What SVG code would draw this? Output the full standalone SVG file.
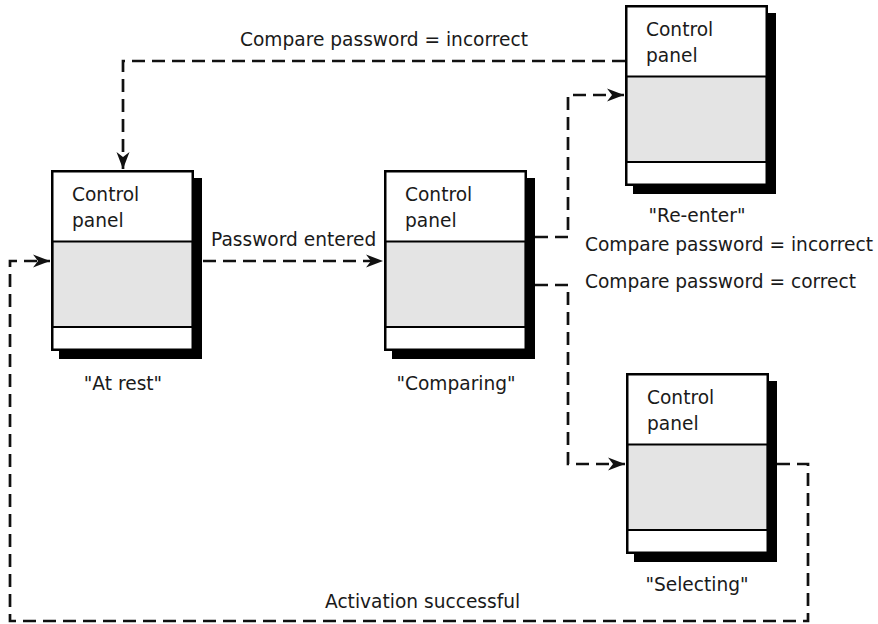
<svg xmlns="http://www.w3.org/2000/svg" width="878" height="624" viewBox="0 0 878 624">
<defs>
<style>
text{font-family:"DejaVu Sans","Liberation Sans",sans-serif;font-size:18.6px;fill:#1a1a1a}
.mid{text-anchor:middle}
.shadow{fill:#000}
.body{fill:#fff}
.gray{fill:#e4e4e4;stroke:#000;stroke-width:2}
.frame{fill:none;stroke:#000;stroke-width:2.5}
.conn{fill:none;stroke:#111;stroke-width:2.7;stroke-dasharray:13 7}
</style>
<marker id="arr" markerUnits="userSpaceOnUse" markerWidth="22" markerHeight="16" viewBox="-20 -8 22 16" refX="0" refY="0" orient="auto">
<path d="M0,0 L-17,-6.5 L-12,0 L-17,6.5 Z" fill="#111"/>
</marker>
</defs>
<rect width="878" height="624" fill="#fff"/>

<g id="connectors">
<path class="conn" d="M625 61 H123 V169" marker-end="url(#arr)"/>
<path class="conn" d="M203 261 H383" marker-end="url(#arr)"/>
<path class="conn" d="M535 237 H568 V95 H624" marker-end="url(#arr)"/>
<path class="conn" d="M535 285 H568 V464 H625" marker-end="url(#arr)"/>
<path class="conn" d="M777 464 H808 V621 H10 V261 H50" marker-end="url(#arr)"/>
<text x="240" y="46">Compare password = incorrect</text>
<text x="211" y="246">Password entered</text>
<text x="585" y="251">Compare password = incorrect</text>
<text x="585" y="288">Compare password = correct</text>
<text x="325" y="608">Activation successful</text>
</g>

<g id="at-rest" transform="translate(51,170)">
<rect class="shadow" x="8" y="8" width="143" height="181"/>
<rect class="body" x="1.25" y="1.25" width="140.5" height="178.5"/>
<rect class="gray" x="1.25" y="71.5" width="140.5" height="85.5"/>
<rect class="frame" x="1.25" y="1.25" width="140.5" height="178.5"/>
<text x="21" y="31">Control</text>
<text x="21" y="57">panel</text>
<text class="mid" x="72" y="220">"At rest"</text>
</g>

<g id="comparing" transform="translate(384,170)">
<rect class="shadow" x="8" y="8" width="143" height="181"/>
<rect class="body" x="1.25" y="1.25" width="140.5" height="178.5"/>
<rect class="gray" x="1.25" y="71.5" width="140.5" height="85.5"/>
<rect class="frame" x="1.25" y="1.25" width="140.5" height="178.5"/>
<text x="21" y="31">Control</text>
<text x="21" y="57">panel</text>
<text class="mid" x="72" y="220">"Comparing"</text>
</g>

<g id="re-enter" transform="translate(625,5)">
<rect class="shadow" x="8" y="8" width="143" height="181"/>
<rect class="body" x="1.25" y="1.25" width="140.5" height="178.5"/>
<rect class="gray" x="1.25" y="71.5" width="140.5" height="85.5"/>
<rect class="frame" x="1.25" y="1.25" width="140.5" height="178.5"/>
<text x="21" y="31">Control</text>
<text x="21" y="57">panel</text>
<text class="mid" x="72" y="217">"Re-enter"</text>
</g>

<g id="selecting" transform="translate(626,373)">
<rect class="shadow" x="8" y="8" width="143" height="181"/>
<rect class="body" x="1.25" y="1.25" width="140.5" height="178.5"/>
<rect class="gray" x="1.25" y="71.5" width="140.5" height="85.5"/>
<rect class="frame" x="1.25" y="1.25" width="140.5" height="178.5"/>
<text x="21" y="31">Control</text>
<text x="21" y="57">panel</text>
<text class="mid" x="71" y="218">"Selecting"</text>
</g>
</svg>
